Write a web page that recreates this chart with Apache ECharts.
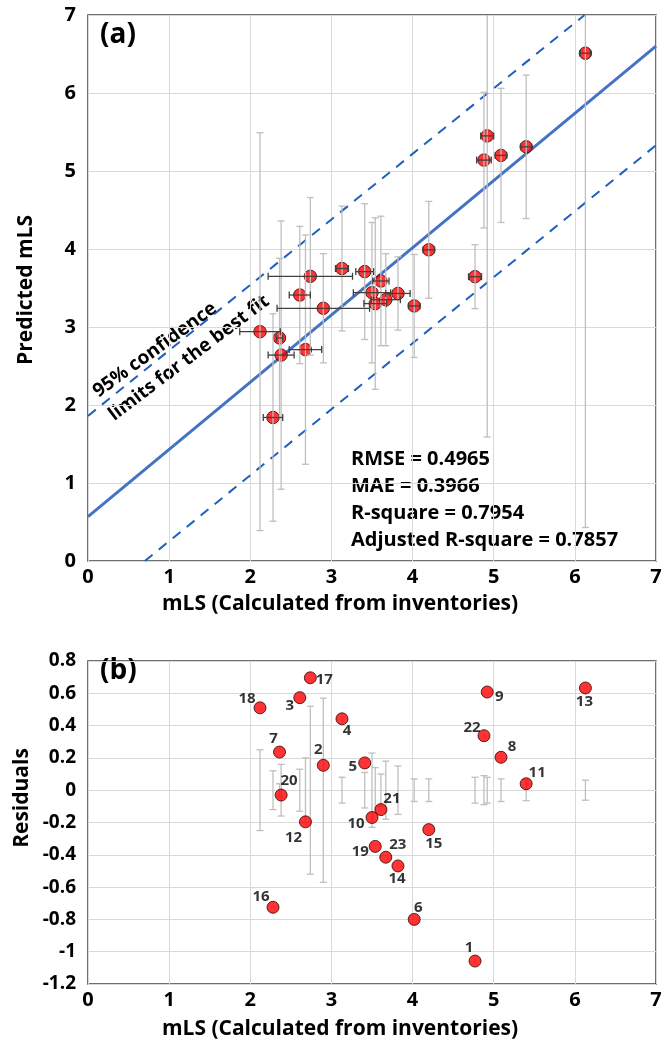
<!DOCTYPE html>
<html>
<head>
<meta charset="utf-8">
<script src="https://cdn.jsdelivr.net/npm/echarts@6/dist/echarts.min.js"></script>
<style>
html,body{margin:0;padding:0;background:#fff;}
#chart{width:665px;height:1041px;}
</style>
</head>
<body>
<div id="chart"></div>
<script>
// ---- data ----
const pointIds   = [1,2,3,4,5,6,7,8,9,10,11,12,13,14,15,16,17,18,19,20,21,22,23];
const xValues    = [4.77,2.90,2.61,3.13,3.41,4.02,2.36,5.09,4.92,3.50,5.40,2.68,6.13,3.82,4.20,2.28,2.74,2.12,3.54,2.38,3.61,4.88,3.67];
const predicted  = [3.645,3.24,3.41,3.75,3.71,3.27,2.86,5.20,5.45,3.44,5.31,2.71,6.51,3.43,3.99,1.84,3.65,2.94,3.30,2.64,3.59,5.14,3.35];
const residuals  = [-1.058,0.154,0.573,0.442,0.169,-0.80,0.236,0.204,0.608,-0.169,0.04,-0.196,0.633,-0.469,-0.244,-0.725,0.696,0.51,-0.348,-0.03,-0.12,0.3375,-0.415];
const xErrors    = [0.08,0.57,0.13,0.08,0.11,0.07,0.04,0.07,0.08,0.23,0.065,0.2,0.062,0.15,0.07,0.12,0.52,0.25,0.14,0.16,0.10,0.09,0.18];
const yErrors    = [0.41,0.70,0.88,0.80,0.87,0.66,1.02,0.86,3.86,0.90,0.92,1.47,6.08,0.47,0.62,1.33,1.01,2.55,1.1,1.72,0.83,0.87,0.59];
const fitLine    = [[0,0.57],[7,6.60]];
const upperLimit = [[0,1.86],[6.12,7.0]];
const lowerLimit = [[0.70,0],[7,5.33]];
const statsLines = ['RMSE = 0.4965','MAE = 0.3966','R-square = 0.7954','Adjusted R-square = 0.7857'];
const xTitle = 'mLS (Calculated from inventories)';
const yTitleA = 'Predicted mLS';
const yTitleB = 'Residuals';
const xTicksA = [0,1,2,3,4,5,6,7];
const yTicksA = [0,1,2,3,4,5,6,7];
const yTicksB = [-1.2,-1,-0.8,-0.6,-0.4,-0.2,0,0.2,0.4,0.6,0.8];

// ---- layout / style (not data) ----
const labelOffsets = [[-6,-13],[-5,-16],[-10,8],[5,12],[-12,4],[4,-12],[-6,-13],[11,-11],[12,5],[-16,6],[11,-11],[-12,16],[-1,14],[-1,13],[5,14],[-12,-11],[14,2],[-13,-9],[-15,5],[8,-14],[11,-11],[-12,-8],[12,-12]];
const FONT = '"Open Sans"';
const gridCol = '#d9d9d9';

const ptsA = xValues.map((x,i)=>[x,predicted[i]]);
const ptsB = xValues.map((x,i)=>({value:[x,residuals[i]], label:{offset:labelOffsets[i]}, name:String(pointIds[i])}));
const vBarsA = xValues.map((x,i)=>[x,predicted[i]-yErrors[i],predicted[i]+yErrors[i]]);
const hBarsA = xValues.map((x,i)=>[predicted[i],x-xErrors[i],x+xErrors[i]]);
const vBarsB = xValues.map((x,i)=>[x,-xErrors[i],xErrors[i]]);

function makeVBar(ymin,ymax,color,width){
  return function(params,api){
    const x=api.value(0), lo=api.value(1), hi=api.value(2);
    const clo=Math.max(lo,ymin), chi=Math.min(hi,ymax);
    const p1=api.coord([x,clo]), p2=api.coord([x,chi]);
    const cw=3.5;
    const ch=[{type:'line',shape:{x1:p1[0],y1:p1[1],x2:p2[0],y2:p2[1]},style:{stroke:color,lineWidth:width}}];
    if(lo>=ymin) ch.push({type:'line',shape:{x1:p1[0]-cw,y1:p1[1],x2:p1[0]+cw,y2:p1[1]},style:{stroke:color,lineWidth:width}});
    if(hi<=ymax) ch.push({type:'line',shape:{x1:p2[0]-cw,y1:p2[1],x2:p2[0]+cw,y2:p2[1]},style:{stroke:color,lineWidth:width}});
    return {type:'group',children:ch};
  };
}
function makeHBar(color,width){
  return function(params,api){
    const y=api.value(0), lo=api.value(1), hi=api.value(2);
    const p1=api.coord([lo,y]), p2=api.coord([hi,y]);
    const cw=3.5;
    return {type:'group',children:[
      {type:'line',shape:{x1:p1[0],y1:p1[1],x2:p2[0],y2:p2[1]},style:{stroke:color,lineWidth:width}},
      {type:'line',shape:{x1:p1[0],y1:p1[1]-cw,x2:p1[0],y2:p1[1]+cw},style:{stroke:color,lineWidth:width}},
      {type:'line',shape:{x1:p2[0],y1:p2[1]-cw,x2:p2[0],y2:p2[1]+cw},style:{stroke:color,lineWidth:width}}
    ]};
  };
}
const axisLabelStyle={fontFamily:FONT,fontWeight:'bold',fontSize:20,color:'#000'};
const fmt = v => String(+(+v).toFixed(1));
const titleFont = 'bold 21px '+FONT;

const chart=echarts.init(document.getElementById('chart'),null,{renderer:'canvas'});
chart.setOption({
  backgroundColor:'#fff',
  animation:false,
  grid:[
    {left:88,right:9,top:15,bottom:480,show:true,borderColor:'#404040',borderWidth:1.5,outerBoundsMode:'none'},
    {left:88,right:9,top:661,bottom:57,show:true,borderColor:'#404040',borderWidth:1.5,outerBoundsMode:'none'}
  ],
  xAxis:[
    {gridIndex:0,type:'value',min:xTicksA[0],max:xTicksA[xTicksA.length-1],interval:1,
     axisLine:{show:false},axisTick:{show:false},splitLine:{lineStyle:{color:gridCol,width:1}},
     axisLabel:Object.assign({margin:6},axisLabelStyle)},
    {gridIndex:1,type:'value',min:xTicksA[0],max:xTicksA[xTicksA.length-1],interval:1,
     axisLine:{show:false},axisTick:{show:false},splitLine:{lineStyle:{color:gridCol,width:1}},
     axisLabel:Object.assign({margin:6},axisLabelStyle)}
  ],
  yAxis:[
    {gridIndex:0,type:'value',min:yTicksA[0],max:yTicksA[yTicksA.length-1],interval:1,
     axisLine:{show:false},axisTick:{show:false},splitLine:{lineStyle:{color:gridCol,width:1}},
     axisLabel:Object.assign({margin:12},axisLabelStyle)},
    {gridIndex:1,type:'value',min:yTicksB[0],max:yTicksB[yTicksB.length-1],interval:0.2,
     axisLine:{show:false},axisTick:{show:false},splitLine:{lineStyle:{color:gridCol,width:1}},
     axisLabel:Object.assign({margin:12,formatter:fmt},axisLabelStyle,{fontSize:19})}
  ],
  series:[
    {type:'line',xAxisIndex:0,yAxisIndex:0,data:fitLine,symbol:'none',lineStyle:{color:'#4472C4',width:3},z:2},
    {type:'line',xAxisIndex:0,yAxisIndex:0,data:upperLimit,symbol:'none',lineStyle:{color:'#1F5FBF',width:2,type:[10,8]},z:2},
    {type:'line',xAxisIndex:0,yAxisIndex:0,data:lowerLimit,symbol:'none',lineStyle:{color:'#1F5FBF',width:2,type:[10,8]},z:2},
    {type:'scatter',xAxisIndex:0,yAxisIndex:0,data:ptsA,symbol:'circle',symbolSize:12.5,
     itemStyle:{color:'#FF0000',borderColor:'#3a0000',borderWidth:1},z:3},
    {type:'custom',xAxisIndex:0,yAxisIndex:0,data:vBarsA,renderItem:makeVBar(0,7,'#bfbfbf',1.3),z:4,silent:true},
    {type:'custom',xAxisIndex:0,yAxisIndex:0,data:hBarsA,renderItem:makeHBar('#404040',1.3),z:5,silent:true},
    {type:'custom',xAxisIndex:1,yAxisIndex:1,data:vBarsB,renderItem:makeVBar(-1.2,0.8,'#bfbfbf',1.3),z:2,silent:true},
    {type:'scatter',xAxisIndex:1,yAxisIndex:1,data:ptsB,symbol:'circle',symbolSize:12,
     itemStyle:{color:'#FF0000',borderColor:'#3a0000',borderWidth:1},z:3,
     label:{show:true,position:'inside',formatter:p=>p.name,fontFamily:FONT,fontWeight:'bold',fontSize:15,color:'#000'}}
  ],
  graphic:[
    {type:'text',left:100,top:21,style:{text:'(a)',font:'bold 28px '+FONT,fill:'#000'}},
    {type:'text',left:100,top:657,style:{text:'(b)',font:'bold 28px '+FONT,fill:'#000'}},
    {type:'text',x:155,y:350,rotation:36*Math.PI/180,style:{text:'95% confidence',font:'bold 19px '+FONT,fill:'#000',align:'center',verticalAlign:'middle'}},
    {type:'text',x:189,y:358,rotation:37*Math.PI/180,style:{text:'limits for the best fit',font:'bold 19px '+FONT,fill:'#000',align:'center',verticalAlign:'middle'}},
    {type:'text',left:351,top:446,style:{text:statsLines.join('\n'),font:'bold 20px '+FONT,lineHeight:27,fill:'#000'}},
    {type:'text',x:340,y:604,style:{text:xTitle,font:titleFont,fill:'#000',align:'center',verticalAlign:'middle'}},
    {type:'text',x:340,y:1029,style:{text:xTitle,font:titleFont,fill:'#000',align:'center',verticalAlign:'middle'}},
    {type:'text',x:26,y:290,rotation:Math.PI/2,style:{text:yTitleA,font:titleFont,fill:'#000',align:'center',verticalAlign:'middle'}},
    {type:'text',x:22,y:798,rotation:Math.PI/2,style:{text:yTitleB,font:titleFont,fill:'#000',align:'center',verticalAlign:'middle'}}
  ]
});
</script>
</body>
</html>
